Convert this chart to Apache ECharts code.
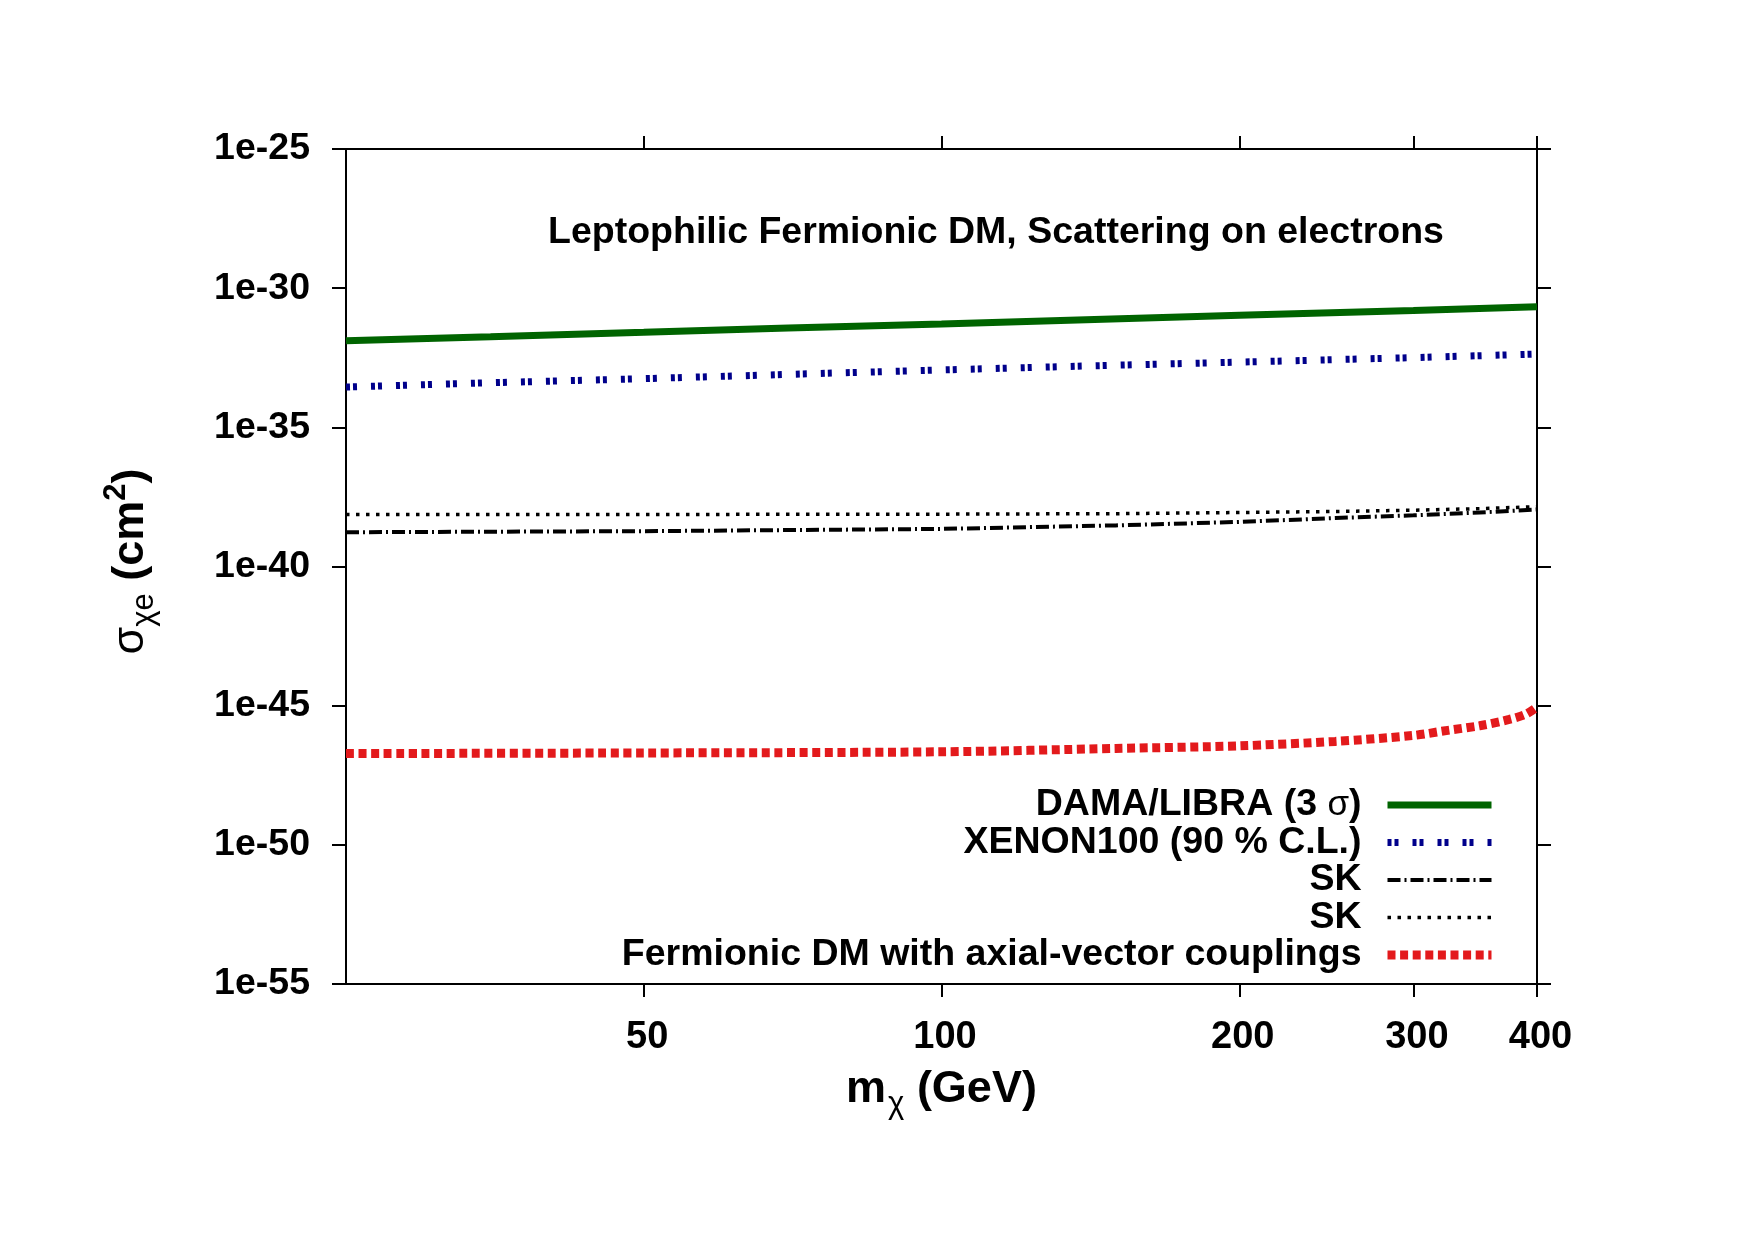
<!DOCTYPE html>
<html>
<head>
<meta charset="utf-8">
<script src="https://cdn.jsdelivr.net/npm/echarts@6/dist/echarts.min.js"></script>
<style>
  html, body { margin: 0; padding: 0; background: #fff; }
  #chart { width: 1755px; height: 1240px; }
</style>
</head>
<body>
<div id="chart"></div>
<script>
// dark matter mass (GeV) and cross sections (cm^2)
const masses = [25, 35, 50, 70, 100, 140, 200, 300, 400]
const damaLibra = [1.29e-32, 1.8e-32, 2.6e-32, 3.7e-32, 5.2e-32, 7.4e-32, 1.07e-31, 1.58e-31, 2.14e-31]
const xenon100 = [2.8e-34, 4.0e-34, 5.6e-34, 8.0e-34, 1.15e-33, 1.6e-33, 2.2e-33, 3.2e-33, 4.3e-33]
const skMasses = [25, 50, 100, 150, 200, 250, 300, 350, 400]
const skDashDot = [1.7e-39, 1.86e-39, 2.24e-39, 3.0e-39, 4.0e-39, 5.5e-39, 6.9e-39, 8.7e-39, 1.12e-38]
const skDotted = [7.4e-39, 7.4e-39, 7.6e-39, 7.9e-39, 8.7e-39, 9.5e-39, 1.05e-38, 1.2e-38, 1.41e-38]
const axialMasses = [25, 50, 100, 150, 200, 250, 300, 325, 350, 375, 390, 400]
const axialVector = [1.9e-47, 2.0e-47, 2.2e-47, 2.9e-47, 3.6e-47, 5.2e-47, 8.5e-47, 1.3e-46, 1.9e-46, 3.2e-46, 5.0e-46, 8.9e-46]

const xTicks = [50, 100, 200, 300, 400]
const yMin = -55, yMax = -25, yStep = 5 // decades

const FONT = '"Liberation Sans", Arial, sans-serif'

// y axis runs over the exponent so that 1e-55 .. 1e-25 is drawn on a log scale
const toPairs = (xs, ys) => xs.map((m, i) => [m, Math.log10(ys[i])])

const myChart = echarts.init(document.getElementById('chart'))

const option = {
  animation: false,
  backgroundColor: '#fff',
  title: {
    text: 'Leptophilic Fermionic DM, Scattering on electrons',
    left: 548,
    top: 214,
    padding: 0,
    textStyle: {fontFamily: FONT, fontSize: 37.5, fontWeight: 'bold', color: '#000'}
  },
  grid: {left: 346, right: 218, top: 149, bottom: 256},
  legend: {
    orient: 'vertical',
    align: 'right',
    right: 259,
    top: 786,
    padding: 0,
    itemWidth: 104,
    itemHeight: 14,
    itemGap: -0.5,
    itemStyle: {opacity: 0},
    lineStyle: {width: 'inherit'},
    formatter: name => name.trim().replace('σ', '{g|σ}'),
    textStyle: {
      fontFamily: FONT, fontSize: 37.5, fontWeight: 'bold', color: '#000',
      lineHeight: 34,
      padding: [0, 21, 0, 0],
      rich: {g: {fontFamily: FONT, fontSize: 35, lineHeight: 34, fontWeight: 'normal', color: '#000'}}
    },
    data: ['DAMA/LIBRA (3 σ)', 'XENON100 (90 % C.L.)', 'SK', 'SK ', 'Fermionic DM with axial-vector couplings']
  },
  xAxis: [
    {
      type: 'log',
      min: 25,
      max: 400,
      name: '{b|m}{sub|χ}{b| (GeV)}',
      nameLocation: 'middle',
      nameGap: 75,
      nameTextStyle: {
        rich: {
          b: {fontFamily: FONT, fontSize: 45, fontWeight: 'bold', color: '#000'},
          sub: {fontFamily: FONT, fontSize: 31, color: '#000', verticalAlign: 'bottom', padding: [30, 0, 0, 2]}
        }
      },
      axisLine: {show: true, lineStyle: {color: '#000', width: 2}},
      axisTick: {show: true, length: 13, customValues: xTicks, lineStyle: {color: '#000', width: 2}},
      axisLabel: {
        customValues: xTicks,
        margin: 35,
        padding: [0, 0, 0, 7],
        fontFamily: FONT, fontSize: 38, fontWeight: 'bold', color: '#000'
      },
      splitLine: {show: false},
      minorTick: {show: false}
    },
    {
      type: 'log',
      position: 'top',
      min: 25,
      max: 400,
      axisLine: {show: true, lineStyle: {color: '#000', width: 2}},
      axisTick: {show: true, length: 13, customValues: xTicks, lineStyle: {color: '#000', width: 2}},
      axisLabel: {show: false},
      splitLine: {show: false}
    }
  ],
  yAxis: [
    {
      type: 'value',
      min: yMin,
      max: yMax,
      interval: yStep,
      name: '{s|σ}{sub|χe}{b| (cm}{sup|2}{b|)}',
      nameLocation: 'middle',
      nameGap: 186,
      nameTextStyle: {
        padding: [0, 0, 0, 10],
        rich: {
          s: {fontFamily: FONT, fontSize: 45, color: '#000'},
          b: {fontFamily: FONT, fontSize: 45, fontWeight: 'bold', color: '#000'},
          sub: {fontFamily: FONT, fontSize: 31, color: '#000', verticalAlign: 'bottom', padding: [28, 0, 0, 0]},
          sup: {fontFamily: FONT, fontSize: 31, fontWeight: 'bold', color: '#000', verticalAlign: 'top', padding: [0, 0, 26, 0]}
        }
      },
      axisLine: {show: true, lineStyle: {color: '#000', width: 2}},
      axisTick: {show: true, length: 14, lineStyle: {color: '#000', width: 2}},
      axisLabel: {
        margin: 36,
        fontFamily: FONT, fontSize: 37.5, fontWeight: 'bold', color: '#000',
        formatter: v => '1e' + v
      },
      splitLine: {show: false}
    },
    {
      type: 'value',
      position: 'right',
      min: yMin,
      max: yMax,
      interval: yStep,
      axisLine: {show: true, lineStyle: {color: '#000', width: 2}},
      axisTick: {show: true, length: 14, lineStyle: {color: '#000', width: 2}},
      axisLabel: {show: false},
      splitLine: {show: false}
    }
  ],
  series: [
    {
      name: 'DAMA/LIBRA (3 σ)',
      type: 'line',
      symbol: 'none',
      lineStyle: {color: '#006400', width: 7, type: 'solid'},
      itemStyle: {color: '#006400'},
      data: toPairs(masses, damaLibra)
    },
    {
      name: 'XENON100 (90 % C.L.)',
      type: 'line',
      symbol: 'none',
      lineStyle: {color: '#00008b', width: 7, type: [4, 3, 4, 14]},
      itemStyle: {color: '#00008b'},
      data: toPairs(masses, xenon100)
    },
    {
      name: 'SK',
      type: 'line',
      symbol: 'none',
      lineStyle: {color: '#000', width: 4, type: [13, 4, 2, 4]},
      itemStyle: {color: '#000'},
      data: toPairs(skMasses, skDashDot)
    },
    {
      name: 'SK ',
      type: 'line',
      symbol: 'none',
      lineStyle: {color: '#000', width: 3.5, type: [3.5, 6.5]},
      itemStyle: {color: '#000'},
      data: toPairs(skMasses, skDotted)
    },
    {
      name: 'Fermionic DM with axial-vector couplings',
      type: 'line',
      symbol: 'none',
      smooth: 0.3,
      lineStyle: {color: '#e31a1c', width: 9, type: [8, 4.6]},
      itemStyle: {color: '#e31a1c'},
      data: toPairs(axialMasses, axialVector)
    }
  ]
}

myChart.setOption(option)
</script>
</body>
</html>
